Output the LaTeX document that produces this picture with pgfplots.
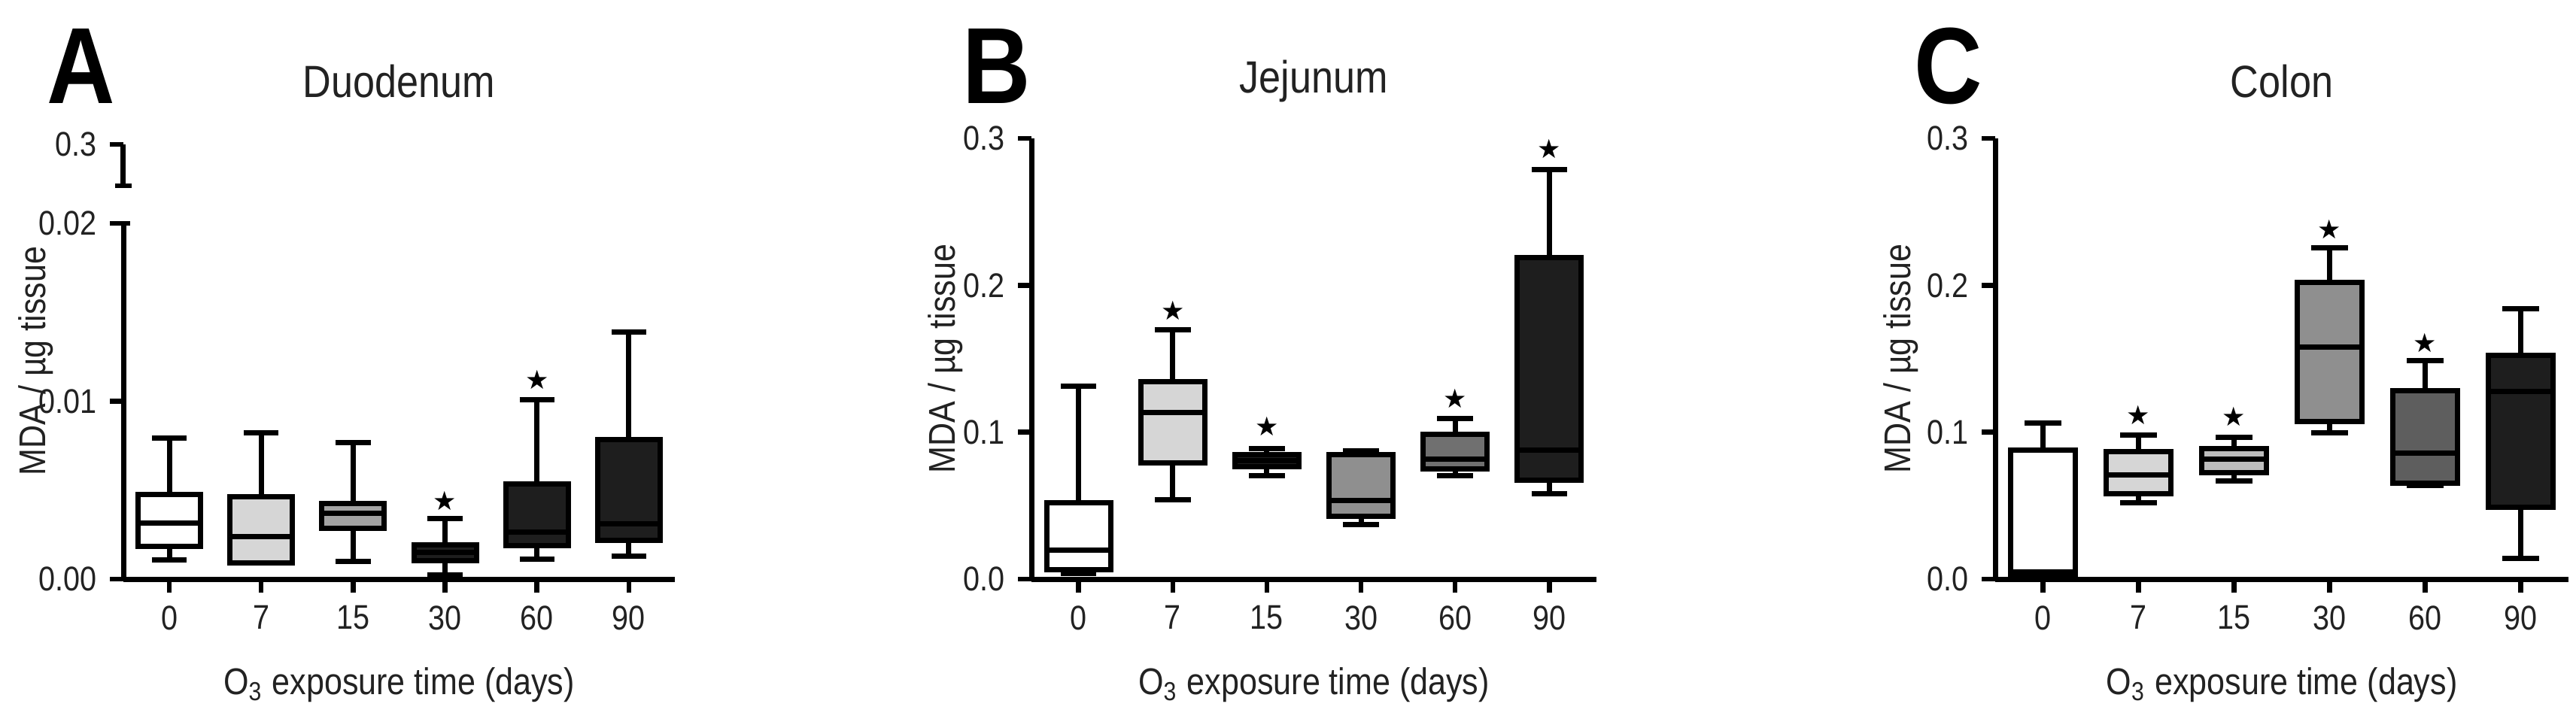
\documentclass[border=0pt]{standalone}
\usepackage{pgfplots}
\pgfplotsset{compat=1.18}
\usepgfplotslibrary{statistics}
\usepackage{fontspec}
\setmainfont[FakeStretch=0.87]{Liberation Sans}
\newfontfamily\symfont{DejaVu Sans}
\definecolor{lg}{HTML}{D6D6D6}
\definecolor{lgb}{HTML}{BDBDBD}
\definecolor{mg}{HTML}{A3A3A3}
\definecolor{gc}{HTML}{8F8F8F}
\definecolor{gd}{HTML}{707070}
\definecolor{ge}{HTML}{5E5E5E}
\definecolor{dk}{HTML}{1E1E1E}
\definecolor{txt}{HTML}{222222}
\pgfplotsset{
  panel/.style={
    scale only axis, axis lines=left,
    axis line style={line width=1.4pt,-},
    xmin=-0.5, xmax=5.5, xtick={0,1,2,3,4,5}, xticklabels={0,7,15,30,60,90},
    tick style={line width=1.3pt, black}, major tick length=3.6pt, tick align=outside,
    ticklabel style={font=\fontsize{9.1}{10}\selectfont, text=txt},
    /pgf/number format/assume math mode=true,
    scaled y ticks=false,
    label style={font=\fontsize{9.9}{11}\selectfont, text=txt},
    xlabel={O\textsubscript{3} exposure time (days)},
    ylabel={MDA / µg tissue},
    x label style={at={(rel axis cs:0.5,0)}, anchor=center, yshift=-28.2pt},
    boxplot/draw direction=y,
    clip=false,
  },
  bx/.style={boxplot prepared={#1, box extend=0.68, whisker extend=0.38},
    draw=black, line width=1.4pt, solid, mark=none},
  st/.style={only marks, mark=text, color=black,
    text mark={\fontsize{7}{7}\symfont ★}},
}
\begin{document}
\begin{tikzpicture}
\path[use as bounding box] (0,0) rectangle (684.8pt,193.4pt);

% ---------- Panel A ----------
\begin{axis}[panel, at={(32.8pt,39.4pt)}, anchor=south west,
  width=146.6pt, height=94.6pt, ymin=0, ymax=0.02,
  ytick={0,0.01,0.02},
  /pgf/number format/.cd, fixed, fixed zerofill, precision=2, /pgfplots/.cd,
  y label style={at={(rel axis cs:0,0.613)}, anchor=center, yshift=23.2pt}]
\addplot[bx={lower whisker=0.00106, lower quartile=0.00184, median=0.00315, upper quartile=0.00477, upper whisker=0.00792, draw position=0}, fill=white] coordinates {};
\addplot[bx={lower whisker=0.00092, lower quartile=0.00093, median=0.0024, upper quartile=0.00463, upper whisker=0.00823, draw position=1}, fill=lg] coordinates {};
\addplot[bx={lower whisker=0.00099, lower quartile=0.00286, median=0.00372, upper quartile=0.00426, upper whisker=0.00767, draw position=2}, fill=mg] coordinates {};
\addplot[bx={lower whisker=0.00025, lower quartile=0.00103, median=0.0015, upper quartile=0.00191, upper whisker=0.00341, draw position=3}, fill=dk] coordinates {};
\addplot[bx={lower whisker=0.00113, lower quartile=0.0019, median=0.00266, upper quartile=0.00535, upper whisker=0.01008, draw position=4}, fill=dk] coordinates {};
\addplot[bx={lower whisker=0.0013, lower quartile=0.00216, median=0.0031, upper quartile=0.00784, upper whisker=0.01389, draw position=5}, fill=dk] coordinates {};
\addplot[st] coordinates {(3,0.0044) (4,0.0112)};
\draw[line width=1.3pt] (rel axis cs:0,1) -- ([xshift=1.8pt]rel axis cs:0,1);
\end{axis}
% broken top segment of A
\begin{axis}[scale only axis, at={(32.8pt,144pt)}, anchor=south west,
  width=146.6pt, height=11pt, xmin=-0.5, xmax=5.5, ymin=0.29, ymax=0.3,
  axis y line=left, axis x line=none,
  axis line style={line width=1.4pt,-},
  ytick={0.3}, yticklabels={0.3},
  tick style={line width=1.3pt, black}, major tick length=3.6pt, tick align=outside,
  ticklabel style={font=\fontsize{9.1}{10}\selectfont, text=txt},
  clip=false]
\draw[line width=1.3pt] ([xshift=-2.2pt]rel axis cs:0,0) -- ([xshift=2.2pt]rel axis cs:0,0);
\end{axis}
\node[text=txt] at (106pt,171.8pt) {\fontsize{12}{14}\selectfont Duodenum};
\node at (21.6pt,175.8pt) {\fontsize{28.8}{30}\selectfont\bfseries A};

% ---------- Panel B ----------
\begin{axis}[panel, at={(274.2pt,39.4pt)}, anchor=south west,
  width=150.2pt, height=117.2pt, ymin=0, ymax=0.3,
  ytick={0,0.1,0.2,0.3},
  /pgf/number format/.cd, fixed, fixed zerofill, precision=1, /pgfplots/.cd,
  y label style={at={(rel axis cs:0,0.5)}, anchor=center, yshift=22.8pt}]
\addplot[bx={lower whisker=0.004, lower quartile=0.0066, median=0.0199, upper quartile=0.0522, upper whisker=0.1313, draw position=0}, fill=white] coordinates {};
\addplot[bx={lower whisker=0.0541, lower quartile=0.0791, median=0.1133, upper quartile=0.1345, upper whisker=0.1696, draw position=1}, fill=lg] coordinates {};
\addplot[bx={lower whisker=0.0705, lower quartile=0.0765, median=0.0805, upper quartile=0.0848, upper whisker=0.0889, draw position=2}, fill=dk] coordinates {};
\addplot[bx={lower whisker=0.0370, lower quartile=0.0425, median=0.0533, upper quartile=0.0848, upper whisker=0.0872, draw position=3}, fill=gc] coordinates {};
\addplot[bx={lower whisker=0.0702, lower quartile=0.0752, median=0.0816, upper quartile=0.0984, upper whisker=0.1095, draw position=4}, fill=gd] coordinates {};
\addplot[bx={lower whisker=0.0579, lower quartile=0.0674, median=0.088, upper quartile=0.2187, upper whisker=0.2788, draw position=5}, fill=dk] coordinates {};
\addplot[st] coordinates {(1,0.183) (2,0.1038) (4,0.1228) (5,0.2927)};
\end{axis}
\node[text=txt] at (349.3pt,171.8pt) {\fontsize{12}{14}\selectfont Jejunum};
\node at (265pt,175.8pt) {\fontsize{28.8}{30}\selectfont\bfseries B};

% ---------- Panel C ----------
\begin{axis}[panel, at={(530.4pt,39.4pt)}, anchor=south west,
  width=152.4pt, height=117.2pt, ymin=0, ymax=0.3,
  ytick={0,0.1,0.2,0.3},
  /pgf/number format/.cd, fixed, fixed zerofill, precision=1, /pgfplots/.cd,
  y label style={at={(rel axis cs:0,0.5)}, anchor=center, yshift=25pt}]
\addplot[bx={lower whisker=0.002, lower quartile=0.003, median=0.005, upper quartile=0.088, upper whisker=0.106, draw position=0}, fill=white] coordinates {};
\addplot[bx={lower whisker=0.0522, lower quartile=0.0579, median=0.0707, upper quartile=0.087, upper whisker=0.0978, draw position=1}, fill=lg] coordinates {};
\addplot[bx={lower whisker=0.0666, lower quartile=0.0727, median=0.0819, upper quartile=0.089, upper whisker=0.0963, draw position=2}, fill=lgb] coordinates {};
\addplot[bx={lower whisker=0.0998, lower quartile=0.1075, median=0.158, upper quartile=0.2019, upper whisker=0.2256, draw position=3}, fill=gc] coordinates {};
\addplot[bx={lower whisker=0.064, lower quartile=0.0655, median=0.086, upper quartile=0.128, upper whisker=0.1485, draw position=4}, fill=ge] coordinates {};
\addplot[bx={lower whisker=0.0142, lower quartile=0.049, median=0.1275, upper quartile=0.1522, upper whisker=0.1839, draw position=5}, fill=dk] coordinates {};
\addplot[st] coordinates {(1,0.1116) (2,0.1108) (3,0.2383) (4,0.161)};
\end{axis}
\node[text=txt] at (606.6pt,171.8pt) {\fontsize{12}{14}\selectfont Colon};
\node at (518pt,175.8pt) {\fontsize{28.8}{30}\selectfont\bfseries C};
\end{tikzpicture}
\end{document}
